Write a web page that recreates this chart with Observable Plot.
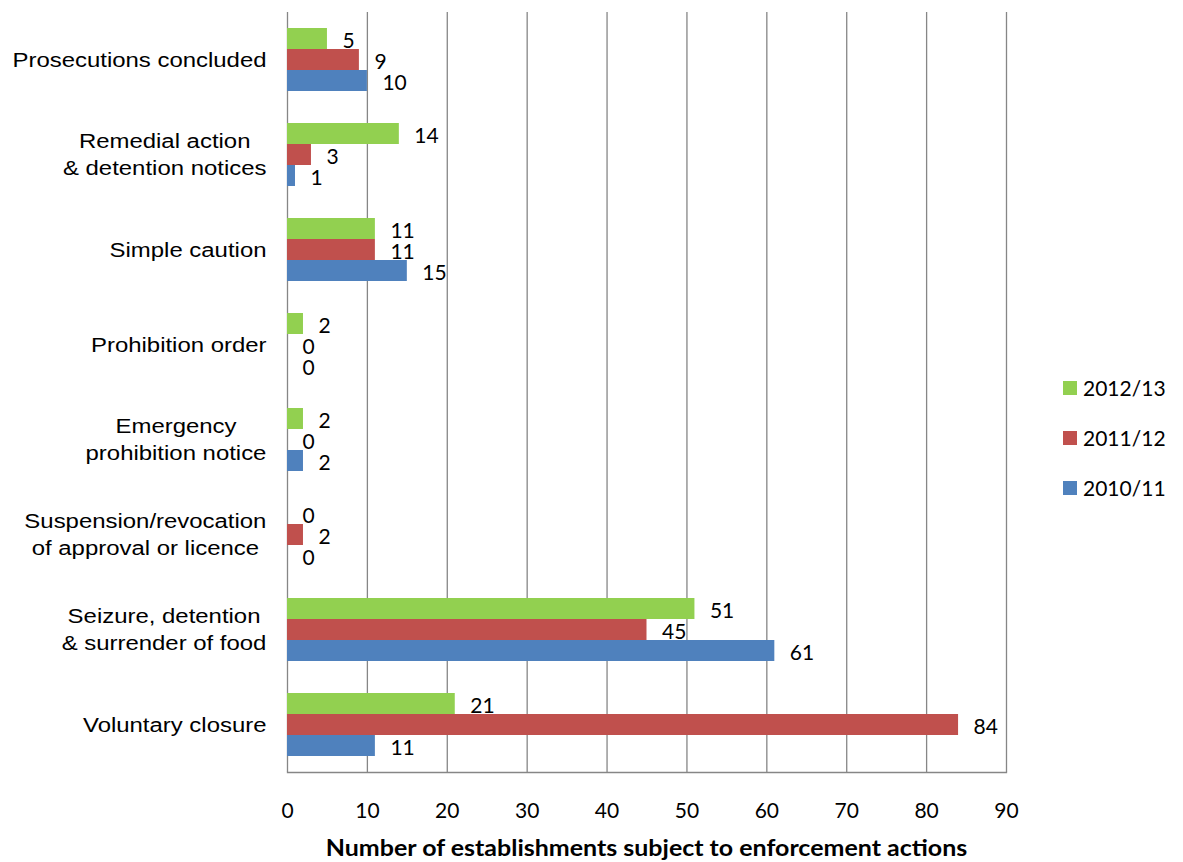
<!DOCTYPE html>
<html>
<head>
<meta charset="utf-8">
<script src="https://cdn.jsdelivr.net/npm/d3@7"></script>
<script src="https://cdn.jsdelivr.net/npm/@observablehq/plot@0.6"></script>
<style>
  body { margin: 0; background: #fff; }
  #wrap { position: relative; width: 1183px; height: 862px; }
  #legend { position: absolute; left: 1063px; top: 363px; font-family: Lato, "Open Sans", sans-serif; font-size: 21px; color: #000; }
  #legend .item { display: flex; align-items: center; height: 50px; line-height: 24px; margin: 0; }
  #legend .item span.sw { width: 14px; height: 14px; margin-right: 6px; display: inline-block; }
  #title { position: absolute; left: 287px; width: 719px; top: 833px; text-align: center; font-family: Lato, "Open Sans", sans-serif; font-weight: bold; font-size: 23px; line-height: normal; color: #000; white-space: nowrap; transform: scaleX(1.086); transform-origin: center; }
</style>
</head>
<body>
<div id="wrap">
  <div id="chart"></div>
  <div id="legend"></div>
  <div id="title"></div>
</div>
<script>
const categories = [
  "Prosecutions concluded",
  "Remedial action\n& detention notices",
  "Simple caution",
  "Prohibition order",
  "Emergency\nprohibition notice",
  "Suspension/revocation\nof approval or licence",
  "Seizure, detention\n& surrender of food",
  "Voluntary closure"
];
const series = ["2012/13", "2011/12", "2010/11"];
const values2012 = [5, 14, 11, 2, 2, 0, 51, 21];
const values2011 = [9, 3, 11, 0, 0, 2, 45, 84];
const values2010 = [10, 1, 15, 0, 2, 0, 61, 11];
const seriesColors = ["#92D050", "#C0504D", "#4F81BD"];
const xTicks = [0, 10, 20, 30, 40, 50, 60, 70, 80, 90];
const axisTitle = "Number of establishments subject to enforcement actions";

const seriesValues = [values2012, values2011, values2010];
const barH = 21;
const bandH = 95;
const inset = (bandH - barH) / 2;
const offsets = [-barH, 0, barH];

const numFont = "Lato, 'Open Sans', sans-serif";
const catFont = "'Liberation Sans', Arial, sans-serif";

const marks = [
  Plot.gridX(xTicks, {stroke: "#868686", strokeOpacity: 1, strokeWidth: 1.3}),
  Plot.frame({anchor: "bottom", stroke: "#868686", strokeWidth: 1.3})
];
series.forEach((s, i) => {
  const data = categories.map((c, j) => ({category: c, value: seriesValues[i][j], series: s}));
  marks.push(Plot.barX(data, {
    x: "value", y: "category", fill: seriesColors[i],
    insetTop: inset, insetBottom: inset, dy: offsets[i]
  }));
  marks.push(Plot.text(data, {
    x: "value", y: "category", text: d => String(d.value),
    textAnchor: "start", dx: 15, dy: offsets[i] + 2,
    fontSize: 21, fontFamily: numFont, fill: "#000"
  }));
});
marks.push(Plot.axisY({
  tickSize: 0, tickPadding: 21, fontSize: 21, fontFamily: catFont,
  lineHeight: 1.3, label: null, fill: "#000", dy: -2
}));
marks.push(Plot.axisX({
  ticks: xTicks, tickSize: 0, tickPadding: 31, fontSize: 21,
  fontFamily: numFont, label: null, fill: "#000"
}));

const chart = Plot.plot({
  width: 1183,
  height: 862,
  marginLeft: 287,
  marginRight: 177,
  marginTop: 12,
  marginBottom: 90,
  style: {background: "#fff", color: "#000", overflow: "visible"},
  x: {domain: [0, 90]},
  y: {domain: categories, padding: 0},
  marks
});
document.getElementById("chart").appendChild(chart);

// center multi-line category labels, keep block right-aligned, widen like the reference
chart.querySelectorAll('g[aria-label="y-axis tick label"] text').forEach(t => {
  const tspans = t.querySelectorAll("tspan");
  if (tspans.length >= 2) {
    let w = 0;
    tspans.forEach(ts => { w = Math.max(w, ts.getComputedTextLength()); });
    t.setAttribute("text-anchor", "middle");
    tspans.forEach(ts => ts.setAttribute("x", -w / 2));
  }
  const tr = t.getAttribute("transform") || "";
  t.setAttribute("transform", tr + " scale(1.14,1)");
});

const legend = document.getElementById("legend");
series.forEach((s, i) => {
  const item = document.createElement("div");
  item.className = "item";
  const sw = document.createElement("span");
  sw.className = "sw";
  sw.style.background = seriesColors[i];
  item.appendChild(sw);
  item.appendChild(document.createTextNode(s));
  legend.appendChild(item);
});
document.getElementById("title").textContent = axisTitle;
</script>
</body>
</html>
